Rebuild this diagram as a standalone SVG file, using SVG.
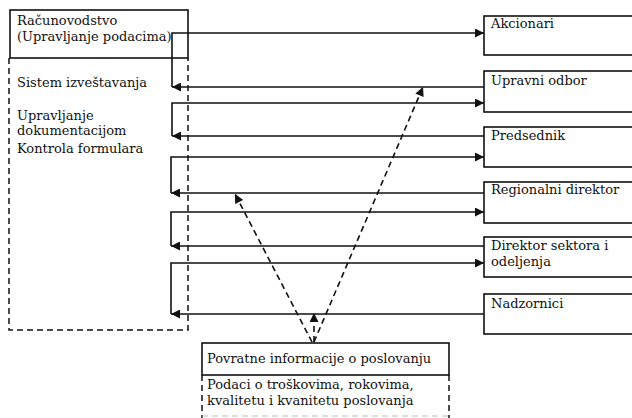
<svg xmlns="http://www.w3.org/2000/svg" width="632" height="418" viewBox="0 0 632 418">
<style>
text{font-family:"DejaVu Serif","Liberation Serif",serif;font-size:13px;fill:#111}
.box{fill:#fff;stroke:#111;stroke-width:1.6}
.dbox{fill:none;stroke:#111;stroke-width:1.5;stroke-dasharray:6 4}
.ln{fill:none;stroke:#111;stroke-width:1.6}
.dl{fill:none;stroke:#111;stroke-width:1.6;stroke-dasharray:6 4}
</style>
<defs>
<marker id="ah" viewBox="0 0 10 10" refX="10" refY="5" markerWidth="10" markerHeight="9" markerUnits="userSpaceOnUse" orient="auto">
<path d="M0,0L10,5L0,10z" fill="#111"/>
</marker>
</defs>
<g id="racunovodstvo">
<path class="dbox" d="M9,58V330H188V58"/>
<rect class="box" x="10" y="10" width="178" height="48"/>
<text x="17" y="25">Računovodstvo</text>
<text x="17" y="41">(Upravljanje podacima)</text>
<text x="17" y="87">Sistem izveštavanja</text>
<text x="17" y="120">Upravljanje</text>
<text x="17" y="135">dokumentacijom</text>
<text x="17" y="153">Kontrola formulara</text>
</g>
<g id="akcionari"><rect class="box" x="484" y="16" width="150" height="39"/><text x="491" y="28">Akcionari</text></g>
<g id="upravni-odbor"><rect class="box" x="484" y="71" width="150" height="41"/><text x="491" y="85">Upravni odbor</text></g>
<g id="predsednik"><rect class="box" x="484" y="127" width="150" height="40"/><text x="491" y="140">Predsednik</text></g>
<g id="regionalni-direktor"><rect class="box" x="484" y="182" width="150" height="41"/><text x="491" y="194">Regionalni direktor</text></g>
<g id="direktor-sektora"><rect class="box" x="484" y="237" width="150" height="40"/><text x="491" y="250">Direktor sektora i</text><text x="491" y="266">odeljenja</text></g>
<g id="nadzornici"><rect class="box" x="484" y="294" width="150" height="40"/><text x="491" y="308">Nadzornici</text></g>
<g id="povratne">
<path class="dbox" d="M202,375V418M449,375V418"/>
<path d="M202,416H449" fill="none" stroke="#bbb" stroke-width="1" stroke-dasharray="6 4"/>
<rect class="box" x="202" y="343" width="247" height="32"/>
<text x="207" y="363">Povratne informacije o poslovanju</text>
<text x="207" y="389">Podaci o troškovima, rokovima,</text>
<text x="207" y="405">kvalitetu i kvanitetu poslovanja</text>
</g>
<g id="connectors">
<path class="ln" d="M172,87V33H484" marker-end="url(#ah)"/>
<path class="ln" d="M484,87H172" marker-end="url(#ah)"/>
<path class="ln" d="M172,136V103H484" marker-end="url(#ah)"/>
<path class="ln" d="M484,136H172" marker-end="url(#ah)"/>
<path class="ln" d="M171,193V157H484" marker-end="url(#ah)"/>
<path class="ln" d="M484,193H171" marker-end="url(#ah)"/>
<path class="ln" d="M171,246V212H484" marker-end="url(#ah)"/>
<path class="ln" d="M484,246H171" marker-end="url(#ah)"/>
<path class="ln" d="M171,314V263H484" marker-end="url(#ah)"/>
<path class="ln" d="M484,314H171" marker-end="url(#ah)"/>
<path class="dl" d="M314,342L423,87" marker-end="url(#ah)"/>
<path class="dl" d="M312,342L235,194" marker-end="url(#ah)"/>
<path class="dl" d="M314,342V313" marker-end="url(#ah)"/>
</g>
</svg>
